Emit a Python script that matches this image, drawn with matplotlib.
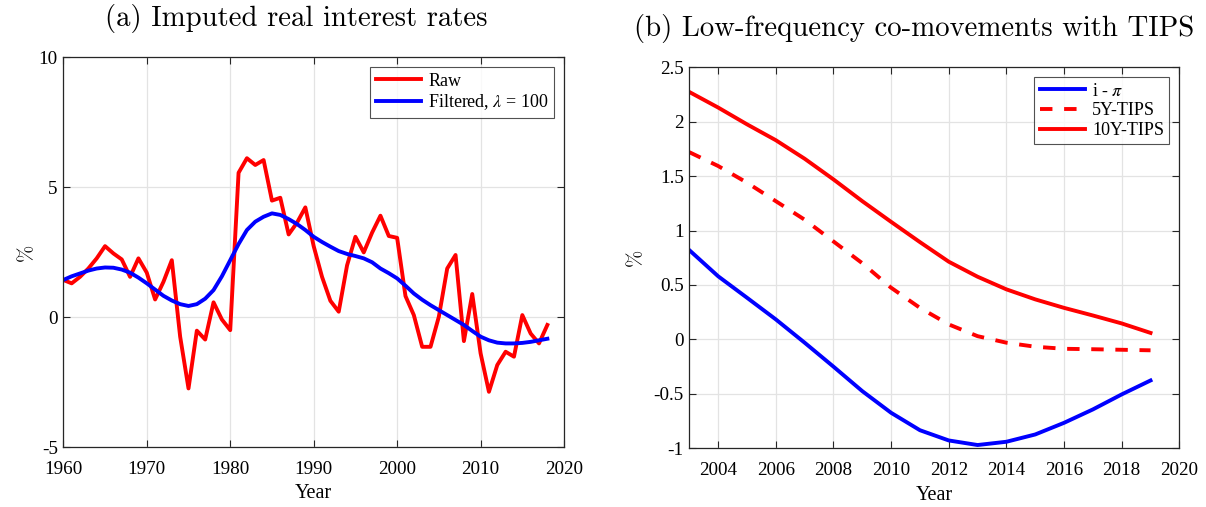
import matplotlib
matplotlib.use("Agg")
import matplotlib.pyplot as plt
import numpy as np

# ---- Panel (a) data ----
years_a = list(range(1960, 2019))
raw = [1.44, 1.31, 1.56, 1.88, 2.27, 2.74, 2.46, 2.23, 1.56, 2.27,
       1.72, 0.69, 1.37, 2.20, -0.74, -2.73, -0.51, -0.85, 0.58, -0.08,
       -0.49, 5.56, 6.12, 5.86, 6.05, 4.49, 4.60, 3.19, 3.64, 4.23,
       2.74, 1.56, 0.64, 0.22, 2.00, 3.10, 2.50, 3.26, 3.91, 3.13,
       3.06, 0.82, 0.09, -1.13, -1.13, 0.03, 1.88, 2.40, -0.91, 0.90,
       -1.38, -2.86, -1.83, -1.32, -1.51, 0.09, -0.62, -1.00, -0.29]
filtered = [1.44, 1.58, 1.69, 1.80, 1.88, 1.92, 1.91, 1.84, 1.72, 1.53,
            1.31, 1.07, 0.83, 0.65, 0.51, 0.44, 0.51, 0.72, 1.05, 1.58,
            2.20, 2.82, 3.36, 3.68, 3.87, 4.00, 3.94, 3.78, 3.59, 3.36,
            3.10, 2.90, 2.72, 2.55, 2.44, 2.36, 2.27, 2.12, 1.88, 1.70,
            1.50, 1.22, 0.92, 0.68, 0.47, 0.28, 0.09, -0.10, -0.29, -0.52,
            -0.74, -0.88, -0.97, -1.00, -1.00, -0.98, -0.94, -0.88, -0.82]

# ---- Panel (b) data ----
years_b = list(range(2003, 2020))
i_minus_pi = [0.82, 0.58, 0.383, 0.184, -0.03, -0.25, -0.475, -0.674, -0.834,
              -0.928, -0.97, -0.94, -0.873, -0.766, -0.643, -0.505, -0.377]
tips5 = [1.72, 1.593, 1.44, 1.27, 1.10, 0.90, 0.70, 0.475, 0.29,
         0.138, 0.03, -0.03, -0.067, -0.086, -0.09, -0.095, -0.10]
tips10 = [2.273, 2.13, 1.976, 1.83, 1.66, 1.47, 1.27, 1.08, 0.894,
          0.714, 0.576, 0.46, 0.368, 0.29, 0.22, 0.147, 0.06]

xticks_a = [1960, 1970, 1980, 1990, 2000, 2010, 2020]
yticks_a = [-5, 0, 5, 10]
xticks_b = [2004, 2006, 2008, 2010, 2012, 2014, 2016, 2018, 2020]
yticks_b = [-1, -0.5, 0, 0.5, 1, 1.5, 2, 2.5]
ytick_labels_b = ["-1", "-0.5", "0", "0.5", "1", "1.5", "2", "2.5"]

plt.rcParams['font.family'] = ['Liberation Serif', 'DejaVu Serif']
plt.rcParams['mathtext.fontset'] = 'stix'
plt.rcParams['axes.unicode_minus'] = False

W, H = 1206, 507
fig = plt.figure(figsize=(W / 100, H / 100), dpi=100)
ax1 = fig.add_axes([0.0525, 0.1174, 0.4152, 0.7696])
ax2 = fig.add_axes([0.5716, 0.1158, 0.4063, 0.7515])

tick_fs = 13.8
lw = 2.8
spine_c = '#262626'

def style(ax):
    ax.grid(True, color='#e3e3e3', linewidth=0.9)
    ax.set_axisbelow(True)
    for s in ax.spines.values():
        s.set_color(spine_c)
        s.set_linewidth(0.9)
    ax.tick_params(direction='in', top=True, right=True, length=5,
                   width=0.8, color=spine_c, labelsize=tick_fs, pad=4)

# Panel (a)
ax1.plot(years_a, raw, color='#ff0000', lw=lw, label='Raw')
ax1.plot(years_a, filtered, color='#0000ff', lw=lw,
         label=r'Filtered, $\lambda$ = 100')
ax1.set_xlim(1960, 2020)
ax1.set_ylim(-5, 10)
ax1.set_xticks(xticks_a)
ax1.set_yticks(yticks_a)
style(ax1)
ax1.tick_params(axis='x', pad=10)
ax1.set_xlabel('Year', fontsize=14.5, labelpad=4)
ax1.set_ylabel('%', family='cmr10', fontsize=15, labelpad=2)
leg1 = ax1.legend(loc='upper right', fontsize=13, frameon=True, fancybox=False,
                  edgecolor='#262626', handlelength=2.5, borderpad=0.3,
                  labelspacing=0.15, handletextpad=0.4, borderaxespad=0.55)
leg1.get_frame().set_linewidth(0.8)
fig.text(296.5 / W, 1 - 25.5 / H, '(a) Imputed real interest rates',
         family='cmr10', fontsize=20.7, ha='center', va='baseline')

# Panel (b)
ax2.plot(years_b, i_minus_pi, color='#0000ff', lw=lw, label=r'i - $\pi$')
ax2.plot(years_b, tips5, color='#ff0000', lw=lw, dashes=(3.2, 3.0),
         label='5Y-TIPS')
ax2.plot(years_b, tips10, color='#ff0000', lw=lw, label='10Y-TIPS')
ax2.set_xlim(2003, 2020)
ax2.set_ylim(-1, 2.5)
ax2.set_xticks(xticks_b)
ax2.set_yticks(yticks_b)
ax2.set_yticklabels(ytick_labels_b)
style(ax2)
ax2.tick_params(axis='x', pad=10)
ax2.set_xlabel('Year', fontsize=14.5, labelpad=5)
ax2.set_ylabel('%', family='cmr10', fontsize=15, labelpad=6)
leg2 = ax2.legend(loc='upper right', fontsize=13, frameon=True, fancybox=False,
                  edgecolor='#262626', handlelength=2.5, borderpad=0.3,
                  labelspacing=0.15, handletextpad=0.4, borderaxespad=0.55)
leg2.get_frame().set_linewidth(0.8)
fig.text(914.5 / W, 1 - 35.5 / H, '(b) Low-frequency co-movements with TIPS',
         family='cmr10', fontsize=20.7, ha='center', va='baseline')

fig.savefig('out.png', dpi=100)
